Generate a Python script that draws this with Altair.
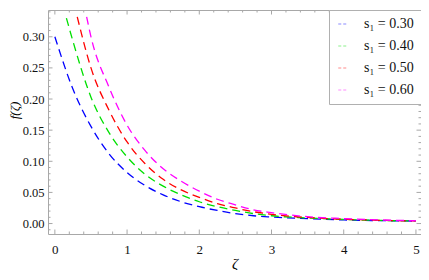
import altair as alt
import pandas as pd

# ---- data ----
series_names = ["s₁ = 0.30", "s₁ = 0.40", "s₁ = 0.50", "s₁ = 0.60"]
series_colors = ["#0000ff", "#00e000", "#ff0000", "#ff00ff"]

zeta_030 = [0.0, 0.25, 0.5, 0.75, 1.0, 1.25, 1.5, 1.75, 2.0, 2.25, 2.5, 2.75, 3.0, 3.5, 4.0, 4.5, 5.0]
f_030 = [0.300, 0.216, 0.156, 0.112, 0.082, 0.061, 0.046, 0.035, 0.027, 0.021, 0.016, 0.0125, 0.0105, 0.0078, 0.0058, 0.0047, 0.004]

zeta_040 = [0.16, 0.25, 0.5, 0.75, 1.0, 1.25, 1.5, 1.75, 2.0, 2.25, 2.5, 2.75, 3.0, 3.5, 4.0, 4.5, 5.0]
f_040 = [0.330, 0.293, 0.203, 0.146, 0.107, 0.079, 0.060, 0.046, 0.035, 0.027, 0.021, 0.016, 0.0125, 0.009, 0.0065, 0.005, 0.004]

zeta_050 = [0.31, 0.5, 0.75, 1.0, 1.25, 1.5, 1.75, 2.0, 2.25, 2.5, 2.75, 3.0, 3.5, 4.0, 4.5, 5.0]
f_050 = [0.332, 0.250, 0.182, 0.131, 0.096, 0.071, 0.054, 0.042, 0.032, 0.025, 0.019, 0.0148, 0.0098, 0.007, 0.0052, 0.0042]

zeta_060 = [0.44, 0.5, 0.75, 1.0, 1.25, 1.5, 1.75, 2.0, 2.25, 2.5, 2.75, 3.0, 3.5, 4.0, 4.5, 5.0]
f_060 = [0.332, 0.300, 0.219, 0.158, 0.117, 0.088, 0.068, 0.052, 0.039, 0.030, 0.022, 0.0175, 0.011, 0.008, 0.0058, 0.0045]

x_major = [0, 1, 2, 3, 4, 5]
x_minor = [round(i * 0.2, 2) for i in range(26) if i % 5 != 0]
y_major = [0.0, 0.05, 0.10, 0.15, 0.20, 0.25, 0.30]
y_minor = [round(i * 0.01, 2) for i in range(-1, 35) if i % 5 != 0]

rows = []
for name, zs, fs in zip(series_names, [zeta_030, zeta_040, zeta_050, zeta_060], [f_030, f_040, f_050, f_060]):
    for z, f in zip(zs, fs):
        rows.append({"zeta": z, "f": f, "series": name})
df = pd.DataFrame(rows)

W, H = 373, 224
XDOM = [-0.095, 5.07]
YDOM = [-0.0168, 0.343]
FRAME = "#a8a8a8"
FONT = "Times New Roman, Liberation Serif, serif"

xs = alt.Scale(domain=XDOM, nice=False, zero=False)
ys = alt.Scale(domain=YDOM, nice=False, zero=False)

X_AXIS = alt.Axis(values=x_major, format="d", ticks=False, domain=False, grid=False,
                  labelOverlap=False, labelFlush=False,
                  labelFont=FONT, labelFontSize=13, labelColor="#111",
                  labelPadding=9, title="ζ", titleFont=FONT, titleFontSize=15,
                  titleFontStyle="italic", titleFontWeight="normal",
                  titleY=34, titleBaseline="alphabetic")
Y_AXIS = alt.Axis(values=y_major, format=".2f", ticks=False, domain=False, grid=False,
                  labelOverlap=False, labelFlush=False,
                  labelFont=FONT, labelFontSize=12.5, labelColor="#111",
                  labelPadding=4, title="f(ζ)", titleFont=FONT, titleFontSize=13,
                  titleFontStyle="italic", titleFontWeight="normal",
                  titleX=-40, titleY=100, titleBaseline="top")

lines = alt.Chart(df).mark_line(
    strokeDash=[8, 5], strokeWidth=1.3, interpolate="monotone", clip=True
).encode(
    x=alt.X("zeta:Q", scale=xs, axis=X_AXIS),
    y=alt.Y("f:Q", scale=ys, axis=Y_AXIS),
    color=alt.Color("series:N",
                    scale=alt.Scale(domain=series_names, range=series_colors),
                    legend=alt.Legend(title=None, orient="top-right", offset=0,
                                      fillColor="white", strokeColor="#b0b0b0",
                                      padding=7, rowPadding=8,
                                      labelFont=FONT, labelFontSize=14, labelColor="#111",
                                      labelOffset=14,
                                      symbolType="stroke", symbolSize=90,
                                      symbolStrokeWidth=1, symbolDash=[3, 2],
                                      symbolOpacity=0.45)),
)

def tick_layer(vals, axis, side, length):
    d = pd.DataFrame({"v": vals})
    base = alt.Chart(d).mark_rule(color=FRAME, strokeWidth=1)
    if axis == "x":
        xe = alt.X("v:Q", scale=xs, axis=X_AXIS)
        if side == "bottom":
            return base.encode(x=xe, y=alt.value(H), y2=alt.value(H - length))
        return base.encode(x=xe, y=alt.value(0), y2=alt.value(length))
    ye = alt.Y("v:Q", scale=ys, axis=Y_AXIS)
    if side == "left":
        return base.encode(y=ye, x=alt.value(0), x2=alt.value(length))
    return base.encode(y=ye, x=alt.value(W), x2=alt.value(W - length))

ticks = [
    tick_layer(x_major, "x", "bottom", 4.5), tick_layer(x_minor, "x", "bottom", 2.5),
    tick_layer(x_major, "x", "top", 4.5), tick_layer(x_minor, "x", "top", 2.5),
    tick_layer(y_major, "y", "left", 4.5), tick_layer(y_minor, "y", "left", 2.5),
    tick_layer(y_major, "y", "right", 4.5), tick_layer(y_minor, "y", "right", 2.5),
]

chart = alt.layer(lines, *ticks).properties(
    width=W, height=H,
    autosize=alt.AutoSizeParams(type="none"),
    padding={"left": 40, "top": 2, "right": 0, "bottom": 36},
).configure_view(stroke=FRAME, strokeWidth=1)

chart.save("out.html", embed_options={"renderer": "svg", "actions": False})
